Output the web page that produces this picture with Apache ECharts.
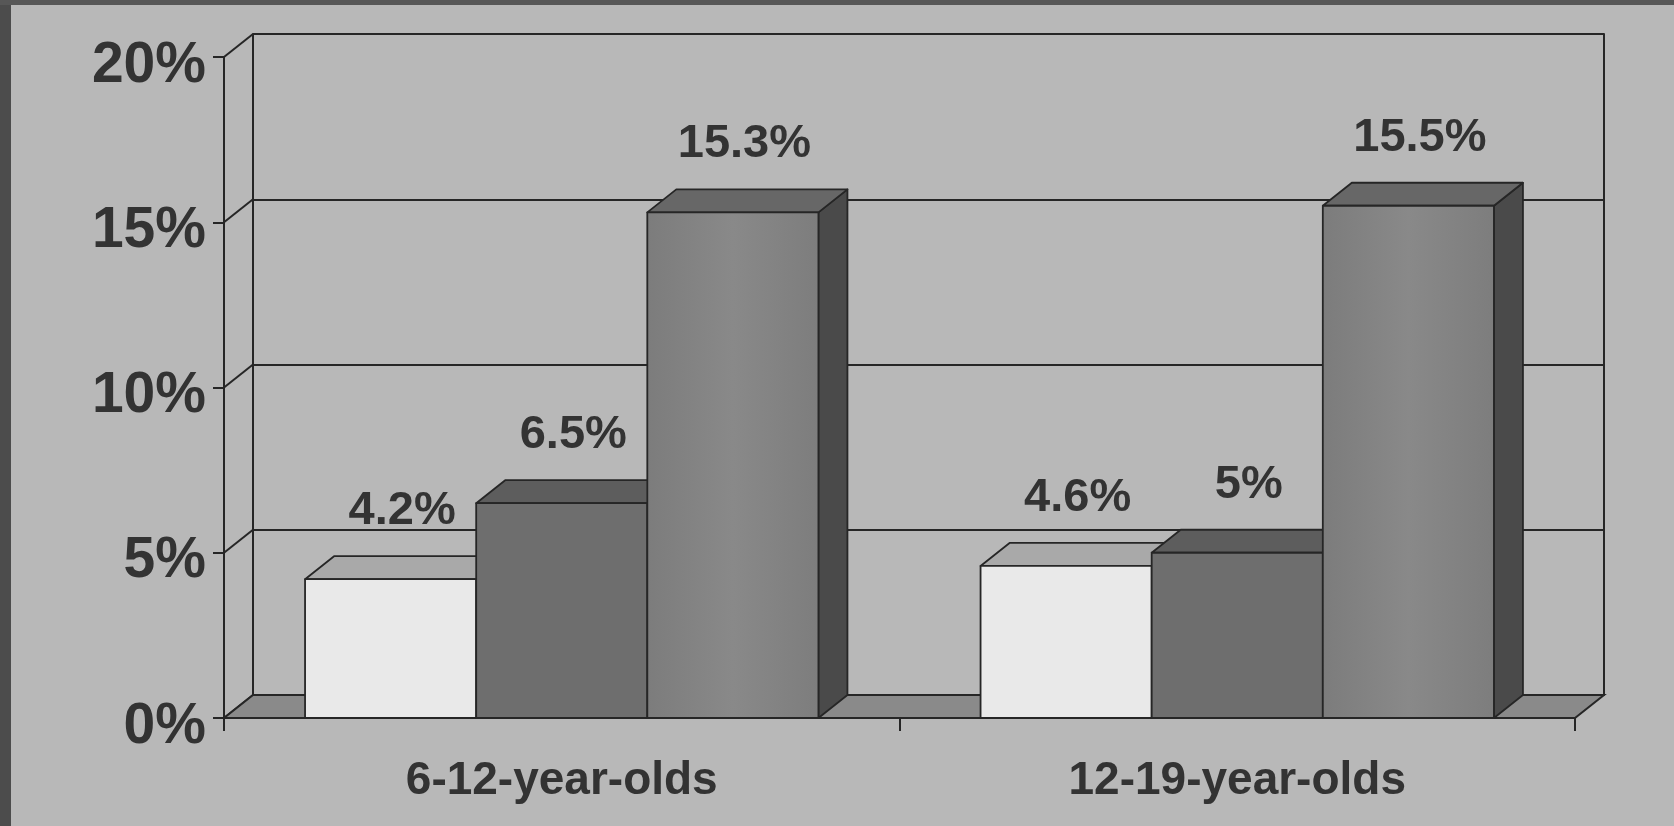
<!DOCTYPE html>
<html>
<head>
<meta charset="utf-8">
<script src="https://cdn.jsdelivr.net/npm/echarts@6/dist/echarts.min.js"></script>
<style>
  html, body { margin: 0; padding: 0; background: #b8b8b8; }
  #chart { position: absolute; left: 0; top: 0; width: 1674px; height: 826px; }
  .frameL { position: absolute; left: 0; top: 0; width: 11px; height: 826px; background: #4c4c4c; z-index: 5; }
  .frameT { position: absolute; left: 0; top: 0; width: 1674px; height: 5px; background: #575757; z-index: 5; }
</style>
</head>
<body>
<div id="chart"></div>
<div class="frameL"></div>
<div class="frameT"></div>
<script>
// ---- data ----
const categories = ['6-12-year-olds', '12-19-year-olds'];
const seriesA = [4.2, 4.6];   // light bars
const seriesB = [6.5, 5];     // dark bars
const seriesC = [15.3, 15.5]; // medium bars
const yTicks = [0, 5, 10, 15, 20];

// ---- styles ----
const DX = 29, DY = -23;
const LINE = '#262626';
const TEXT = '#333333';
const GAP = 0.24;
const barStyles = [
  { front: '#e9e9e9', top: '#a9a9a9', side: '#8a8a8a' },
  { front: '#6e6e6e', top: '#5d5d5d', side: '#474747' },
  { front: { type: 'linear', x: 0, y: 0, x2: 1, y2: 0, colorStops: [
      { offset: 0, color: '#7c7c7c' }, { offset: 0.5, color: '#898989' }, { offset: 1, color: '#7d7d7d' }] },
    top: '#676767', side: '#4a4a4a' }
];

function barRenderer(sIdx) {
  return function (params, api) {
    const cat = api.value(0), val = api.value(1);
    const base = api.coord([cat, 0]);
    const topPt = api.coord([cat, val]);
    const band = api.size([1, 0])[0];
    const bw = band * (1 - GAP) / 3;
    const x = base[0] - 1.5 * bw + sIdx * bw;
    const yb = base[1], yt = topPt[1];
    const st = barStyles[sIdx];
    const strokeStyle = { stroke: LINE, lineWidth: 1.8, lineJoin: 'round' };
    return {
      type: 'group',
      children: [
        { type: 'polygon', shape: { points: [[x + bw, yt], [x + bw + DX, yt + DY], [x + bw + DX, yb + DY], [x + bw, yb]] },
          style: Object.assign({ fill: st.side }, strokeStyle) },
        { type: 'polygon', shape: { points: [[x, yt], [x + bw, yt], [x + bw + DX, yt + DY], [x + DX, yt + DY]] },
          style: Object.assign({ fill: st.top }, strokeStyle) },
        { type: 'rect', shape: { x: x, y: yt, width: bw, height: yb - yt },
          style: Object.assign({ fill: st.front }, strokeStyle) },
        { type: 'text', x: x + bw / 2 + DX / 2 - 3, y: yt - 68,
          style: { text: val + '%', fill: TEXT, font: 'bold 47px "Liberation Sans", Arial, sans-serif',
                   textAlign: 'center', textVerticalAlign: 'middle' } }
      ]
    };
  };
}

const chart = echarts.init(document.getElementById('chart'), null, { renderer: 'canvas' });
const option = {
  backgroundColor: '#b8b8b8',
  animation: false,
  grid: [
    { left: 224, right: 99, top: 57, bottom: 108 },               // front plane
    { left: 224 + DX, right: 99 - DX, top: 57 + DY, bottom: 108 - DY } // back wall
  ],
  xAxis: [
    { type: 'category', gridIndex: 0, data: categories,
      axisLine: { lineStyle: { color: LINE, width: 2 } },
      axisTick: { show: true, length: 13, lineStyle: { color: LINE, width: 2 } },
      axisLabel: { color: TEXT, fontSize: 46, fontWeight: 'bold', fontFamily: '"Liberation Sans", Arial, sans-serif', margin: 40 },
      splitLine: { show: false } },
    { type: 'category', gridIndex: 1, data: categories, show: false }
  ],
  yAxis: [
    { type: 'value', gridIndex: 0, min: 0, max: 20, interval: 5,
      axisLine: { show: true, lineStyle: { color: LINE, width: 2 } },
      axisTick: { show: true, length: 11, lineStyle: { color: LINE, width: 2 } },
      axisLabel: { margin: 18, formatter: '{a|{value}%}',
                   rich: { a: { color: TEXT, fontSize: 57, fontWeight: 'bold',
                                fontFamily: '"Liberation Sans", Arial, sans-serif', padding: [18, 0, 0, 0] } } },
      splitLine: { show: false } },
    { type: 'value', gridIndex: 1, min: 0, max: 20, interval: 5,
      axisLine: { show: true, lineStyle: { color: LINE, width: 2 } },
      axisTick: { show: false }, axisLabel: { show: false },
      splitLine: { show: true, lineStyle: { color: LINE, width: 2 } } },
    { type: 'value', gridIndex: 1, position: 'right', min: 0, max: 20, interval: 5,
      axisLine: { show: true, lineStyle: { color: LINE, width: 2 } },
      axisTick: { show: false }, axisLabel: { show: false }, splitLine: { show: false } }
  ],
  series: [
    { // side-wall diagonals at each tick
      type: 'custom', xAxisIndex: 0, yAxisIndex: 0, z: 1,
      data: yTicks.map(v => [0, v]),
      renderItem: function (params, api) {
        const y = api.coord([0, api.value(1)])[1];
        const x = params.coordSys.x;
        return { type: 'line', shape: { x1: x, y1: y, x2: x + DX, y2: y + DY },
                 style: { stroke: LINE, lineWidth: 2 } };
      }
    },
    { // floor
      type: 'custom', xAxisIndex: 0, yAxisIndex: 0, z: 1,
      data: [[0, 0]],
      renderItem: function (params, api) {
        const y = api.coord([0, 0])[1];
        const x0 = params.coordSys.x, x1 = params.coordSys.x + params.coordSys.width;
        return { type: 'polygon', shape: { points: [[x0, y], [x1, y], [x1 + DX, y + DY], [x0 + DX, y + DY]] },
                 style: { fill: '#8a8a8a', stroke: LINE, lineWidth: 2 } };
      }
    },
    { type: 'custom', xAxisIndex: 0, yAxisIndex: 0, z: 3, renderItem: barRenderer(0),
      data: categories.map((c, i) => [i, seriesA[i]]) },
    { type: 'custom', xAxisIndex: 0, yAxisIndex: 0, z: 3, renderItem: barRenderer(1),
      data: categories.map((c, i) => [i, seriesB[i]]) },
    { type: 'custom', xAxisIndex: 0, yAxisIndex: 0, z: 3, renderItem: barRenderer(2),
      data: categories.map((c, i) => [i, seriesC[i]]) }
  ]
};
chart.setOption(option);
</script>
</body>
</html>
